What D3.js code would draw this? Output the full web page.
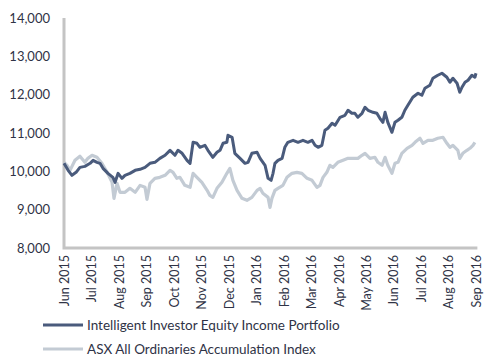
<!DOCTYPE html>
<html>
<head>
<meta charset="utf-8">
<script src="https://cdn.jsdelivr.net/npm/d3@7"></script>
<style>
  body { margin: 0; background: #fff; }
  text { font-family: Lato, "Open Sans", sans-serif; }
</style>
</head>
<body>
<div id="chart"></div>
<script>
const w = 491
const h = 363

// Month labels for the category axis (one tick per month)
const months = [ "Jun 2015", "Jul 2015", "Aug 2015", "Sep 2015", "Oct 2015", "Nov 2015", "Dec 2015",
                 "Jan 2016", "Feb 2016", "Mar 2016", "Apr 2016", "May 2016", "Jun 2016", "Jul 2016",
                 "Aug 2016", "Sep 2016" ]

const yTicks = [ 8000, 9000, 10000, 11000, 12000, 13000, 14000 ]

const seriesNames = [ "Intelligent Investor Equity Income Portfolio", "ASX All Ordinaries Accumulation Index" ]

// [months since Jun 2015, value]
const portfolio = [
  [0,10209],[0.15,10026],[0.29,9896],[0.44,9974],[0.58,10104],[0.76,10130],[0.95,10209],[1.06,10287],
  [1.20,10235],[1.31,10209],[1.42,10078],[1.60,9948],[1.78,9843],[1.86,9713],[1.97,9948],[2.11,9817],
  [2.22,9896],[2.40,9948],[2.59,10026],[2.77,10052],[2.95,10104],[3.13,10209],[3.31,10235],[3.49,10339],
  [3.68,10418],[3.86,10548],[4.04,10418],[4.15,10548],[4.30,10470],[4.48,10287],[4.59,10209],[4.70,10757],
  [4.84,10731],[4.95,10627],[5.13,10679],[5.24,10548],[5.42,10366],[5.57,10496],[5.68,10548],[5.79,10731],
  [5.93,10757],[5.97,10940],[6.12,10888],[6.22,10470],[6.41,10339],[6.59,10209],[6.70,10235],[6.84,10470],
  [7.03,10496],[7.14,10339],[7.32,10157],[7.43,9817],[7.54,9765],[7.61,9948],[7.68,10209],[7.79,10287],
  [7.94,10339],[8.04,10627],[8.15,10757],[8.34,10809],[8.52,10757],[8.70,10809],[8.88,10757],[9.03,10809],
  [9.14,10679],[9.25,10627],[9.39,10679],[9.50,11071],[9.61,11123],[9.76,11253],[9.87,11201],[10.05,11410],
  [10.23,11462],[10.34,11593],[10.48,11514],[10.59,11514],[10.70,11410],[10.85,11514],[10.96,11671],[11.07,11593],
  [11.25,11540],[11.39,11514],[11.50,11384],[11.61,11279],[11.69,11540],[11.79,11279],[11.94,11018],[12.05,11279],
  [12.16,11332],[12.30,11410],[12.41,11593],[12.52,11723],[12.70,11932],[12.89,12037],[13.03,11984],[13.14,12167],
  [13.32,12245],[13.43,12428],[13.61,12507],[13.76,12559],[13.94,12454],[14.05,12324],[14.16,12428],[14.31,12298],
  [14.41,12063],[14.49,12193],[14.60,12324],[14.71,12376],[14.85,12507],[14.96,12454],[15.0,12559]
]

const asxIndex = [
  [0,10235],[0.11,10157],[0.22,10026],[0.40,10287],[0.58,10392],[0.76,10235],[0.87,10339],[1.02,10418],
  [1.20,10366],[1.38,10209],[1.57,9974],[1.75,9713],[1.82,9295],[1.93,9687],[2.04,9452],[2.22,9452],
  [2.40,9556],[2.59,9452],[2.77,9634],[2.95,9582],[3.02,9269],[3.13,9687],[3.31,9817],[3.49,9843],
  [3.68,9896],[3.86,10026],[3.97,9974],[4.11,9817],[4.22,9843],[4.40,9634],[4.59,9582],[4.70,9948],
  [4.84,9843],[5.02,9713],[5.21,9504],[5.31,9373],[5.42,9321],[5.57,9556],[5.75,9713],[5.93,9948],
  [6.04,10078],[6.15,9765],[6.30,9504],[6.48,9295],[6.66,9243],[6.84,9321],[7.03,9504],[7.14,9556],
  [7.24,9426],[7.43,9321],[7.50,9060],[7.57,9295],[7.68,9504],[7.79,9556],[7.97,9634],[8.12,9843],
  [8.30,9948],[8.48,9974],[8.66,9948],[8.85,9817],[9.03,9765],[9.21,9582],[9.32,9634],[9.43,9843],
  [9.57,9974],[9.68,10157],[9.79,10104],[9.97,10235],[10.16,10287],[10.34,10339],[10.52,10339],[10.70,10339],
  [10.85,10418],[10.96,10470],[11.14,10339],[11.32,10366],[11.43,10235],[11.58,10157],[11.69,10366],[11.79,10157],
  [11.94,9948],[12.05,10209],[12.16,10235],[12.30,10470],[12.49,10601],[12.67,10679],[12.78,10757],[12.96,10862],
  [13.07,10731],[13.25,10809],[13.43,10809],[13.61,10862],[13.80,10888],[13.94,10731],[14.05,10627],[14.16,10679],
  [14.34,10548],[14.41,10339],[14.52,10470],[14.67,10548],[14.78,10601],[14.89,10679],[14.96,10757]
]

const colors = [ "#4a5b7c", "#c3cbd4" ]
const textColor = "#2f3346"

const svg = d3.select("#chart")
              .append("svg")
                .attr("width", w)
                .attr("height", h)

const plotLeft = 64, plotRight = 476, plotTop = 18, plotBottom = 248

const xScale = d3.scaleLinear()
                  .domain([0, months.length - 1])
                  .range([plotLeft, plotRight])

const yScale = d3.scaleLinear()
                  .domain([8000, 14000])
                  .range([plotBottom, plotTop])

// y axis labels
const yAxis = svg.append("g")
                  .attr("transform", `translate(${plotLeft}, 0)`)
                  .call(d3.axisLeft(yScale).tickValues(yTicks).tickSize(0).tickPadding(14)
                          .tickFormat(d3.format(",")))
yAxis.select(".domain").remove()
yAxis.selectAll("text")
      .attr("fill", textColor)
      .style("font-size", "13px")

// x axis labels (rotated)
const xAxis = svg.append("g")
                  .attr("transform", `translate(0, ${plotBottom})`)
                  .call(d3.axisBottom(xScale).tickValues(d3.range(months.length)).tickSize(0)
                          .tickFormat(i => months[i]))
xAxis.select(".domain").remove()
xAxis.selectAll("text")
      .attr("fill", textColor)
      .style("font-size", "12.5px")
      .attr("text-anchor", "end")
      .attr("transform", "rotate(-90)")
      .attr("x", -7)
      .attr("y", 0)
      .attr("dy", "0.35em")

// axis lines
svg.append("path")
    .attr("d", `M${plotLeft},${plotTop}V${plotBottom}H${xScale(15.05)}`)
    .attr("fill", "none")
    .attr("stroke", "#c4c4c4")
    .attr("stroke-width", 3)

const line = d3.line()
                .x(d => xScale(d[0]))
                .y(d => yScale(d[1]))

svg.append("path")
    .datum(asxIndex)
    .attr("d", line)
    .attr("fill", "none")
    .attr("stroke", colors[1])
    .attr("stroke-width", 3.2)
    .attr("stroke-linejoin", "round")

svg.append("path")
    .datum(portfolio)
    .attr("d", line)
    .attr("fill", "none")
    .attr("stroke", colors[0])
    .attr("stroke-width", 3)
    .attr("stroke-linejoin", "round")

// legend
const legend = svg.append("g")
                    .selectAll("g")
                    .data(seriesNames)
                    .join("g")
                      .attr("transform", (d, i) => `translate(43, ${325 + i * 24})`)

legend.append("line")
        .attr("x1", 0).attr("x2", 40)
        .attr("stroke", (d, i) => colors[i])
        .attr("stroke-width", 3)

legend.append("text")
        .attr("x", 44)
        .attr("dy", "0.35em")
        .attr("fill", textColor)
        .style("font-size", "13.5px")
        .text(d => d)
</script>
</body>
</html>
